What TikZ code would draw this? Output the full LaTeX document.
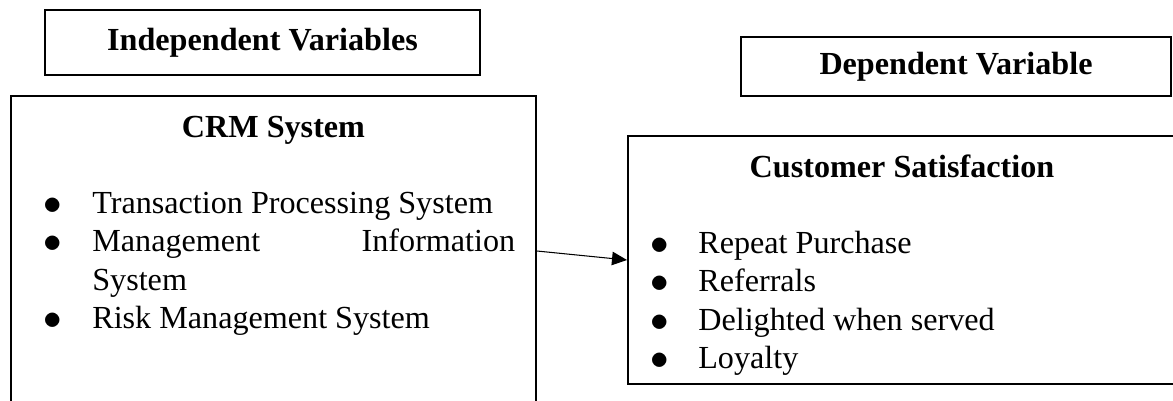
\documentclass[tikz,border=0pt]{standalone}
\usepackage{fontspec}
\usepackage{graphicx}
\setmainfont{Liberation Serif}
\usetikzlibrary{positioning,arrows.meta,calc}

\newcommand{\itemdot}{\raisebox{-0.03em}{\scalebox{1.22}{$\bullet$}}}

\tikzset{
  headbox/.style={draw, rectangle, line width=1.2pt, inner sep=0pt, font=\fontsize{18.3}{21.9}\selectfont\bfseries},
  framebox/.style={draw, rectangle, line width=1.2pt, inner sep=0pt},
  boxtitle/.style={anchor=base, inner sep=0pt, font=\fontsize{18.3}{21.9}\selectfont\bfseries},
  itemlist/.style={anchor=north west, inner sep=0pt, font=\fontsize{18.3}{21.9}\selectfont}
}

\begin{document}
\begin{tikzpicture}[x=0.02cm, y=-0.02cm]
        \useasboundingbox (0,0) rectangle (1173,400);
        \clip (0,0) rectangle (1173,400);

        % header boxes
        \node[headbox, minimum width=8.7cm, minimum height=1.3cm] (indep) at (262.5,42.5) {Independent Variables};
        \node[headbox, minimum width=8.6cm, minimum height=1.18cm] (dep) at (956,66.5) {Dependent Variable};

        % variable boxes
        \node[framebox, minimum width=10.5cm, minimum height=6.6cm] (crm) at (273.5,261) {};
        \node[framebox, minimum width=11.04cm, minimum height=4.96cm] (cust) at (904,260) {};

        \node[boxtitle] (crmtitle) at (273.5,137) {CRM System};
        \node[boxtitle] (custtitle) at (902,177) {Customer Satisfaction};

        \node[itemlist] (crmlist) at (43,186) {%
          \begin{tabular}{@{}p{0.98cm}@{}p{8.46cm}@{}}
            \itemdot & Transaction Processing System\\
            \itemdot & Management\hfill Information\newline System\\
            \itemdot & Risk Management System
          \end{tabular}};
        \node[itemlist] (custlist) at (650,226) {%
          \begin{tabular}{@{}p{0.96cm}@{}p{8cm}@{}}
            \itemdot & Repeat Purchase\\
            \itemdot & Referrals\\
            \itemdot & Delighted when served\\
            \itemdot & Loyalty
          \end{tabular}};

        \draw[-{Triangle[length=0.3cm, width=0.27cm]}, line width=0.6pt] ($(crm.east)+(0,-10)$) -- (cust.west);
\end{tikzpicture}
\end{document}
